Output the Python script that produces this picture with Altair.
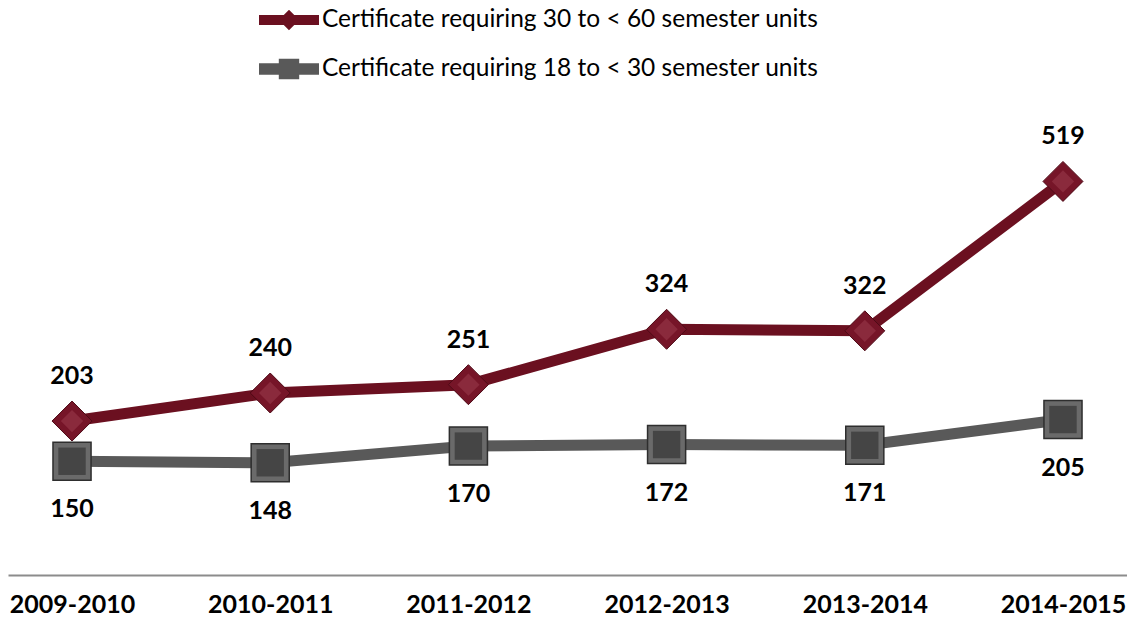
import altair as alt
import pandas as pd

years = ["2009-2010", "2010-2011", "2011-2012", "2012-2013", "2013-2014", "2014-2015"]
series_names = ["Certificate requiring 30 to < 60 semester units",
                "Certificate requiring 18 to < 30 semester units"]
cert_30_60 = [203, 240, 251, 324, 322, 519]
cert_18_30 = [150, 148, 170, 172, 171, 205]
colors = ["#6b1020", "#595959"]

rows = []
for y, v in zip(years, cert_30_60):
    rows.append({"year": y, "value": v, "series": series_names[0]})
for y, v in zip(years, cert_18_30):
    rows.append({"year": y, "value": v, "series": series_names[1]})
df = pd.DataFrame(rows)

bar_diamond = "M-2,-0.33 L2,-0.33 L2,0.33 L-2,0.33 Z M0,-0.68 L0.68,0 L0,0.68 L-0.68,0 Z"
bar_square = "M-2,-0.38 L2,-0.38 L2,0.38 L-2,0.38 Z M-0.68,-0.68 L0.68,-0.68 L0.68,0.68 L-0.68,0.68 Z"

xenc = alt.X("year:N", sort=years,
             scale=alt.Scale(type="point", padding=0.323),
             axis=alt.Axis(title=None, labelAngle=0, ticks=False, grid=False,
                           domainColor="#8c8c8c", domainWidth=2,
                           labelFont="Lato", labelFontSize=25, labelFontWeight="bold",
                           labelColor="#000000", labelPadding=17))
yenc = alt.Y("value:Q", scale=alt.Scale(domain=[0, 600]), axis=None)
cscale = alt.Scale(domain=series_names, range=colors)

leg = dict(title=None, orient="none", legendX=266, legendY=-115,
           direction="vertical", labelFont="Lato", labelFontSize=24.5,
           labelColor="#000000", symbolSize=900, symbolStrokeWidth=0,
           symbolOpacity=1, rowPadding=22, labelOffset=18, labelLimit=800)

base = alt.Chart(df).encode(x=xenc, y=yenc)

lines = base.mark_line(strokeWidth=11).encode(
    color=alt.Color("series:N", scale=cscale, legend=None))

legend_layer = base.mark_point(filled=True, opacity=0, strokeWidth=0).encode(
    color=alt.Color("series:N", scale=cscale, legend=alt.Legend(**leg)),
    shape=alt.Shape("series:N", scale=alt.Scale(domain=series_names, range=[bar_diamond, bar_square]),
                    legend=alt.Legend(**leg)),
)

diamonds = base.transform_filter(alt.datum.series == series_names[0]).mark_point(
    shape="diamond", size=1600, filled=True, fill="#761528", stroke="#4e0a16",
    strokeWidth=1, opacity=1)
diamonds_in = base.transform_filter(alt.datum.series == series_names[0]).mark_point(
    shape="diamond", size=500, filled=True, fill="#8a2a3c", opacity=1)

squares = base.transform_filter(alt.datum.series == series_names[1]).mark_point(
    shape="square", size=1450, filled=True, fill="#6a6a6a", stroke="#2e2e2e",
    strokeWidth=1.5, opacity=1)
squares_in = base.transform_filter(alt.datum.series == series_names[1]).mark_point(
    shape="square", size=750, filled=True, fill="#454545", opacity=1)

labels_top = base.transform_filter(alt.datum.series == series_names[0]).mark_text(
    dy=-45, font="Lato", fontSize=25, fontWeight="bold", color="#000000"
).encode(text="value:Q")
labels_bot = base.transform_filter(alt.datum.series == series_names[1]).mark_text(
    dy=48, font="Lato", fontSize=25, fontWeight="bold", color="#000000"
).encode(text="value:Q")

chart = alt.layer(lines, legend_layer, diamonds, diamonds_in, squares, squares_in,
                  labels_top, labels_bot).properties(
    width=1119, height=455,
    autosize=alt.AutoSizeParams(type="none"),
    padding={"top": 112, "left": 0, "right": 0, "bottom": 42}
).resolve_legend(color="independent", shape="independent").configure(
    background="white"
).configure_view(stroke=None)

chart.save("out.html", embed_options={"renderer": "svg", "actions": False})
